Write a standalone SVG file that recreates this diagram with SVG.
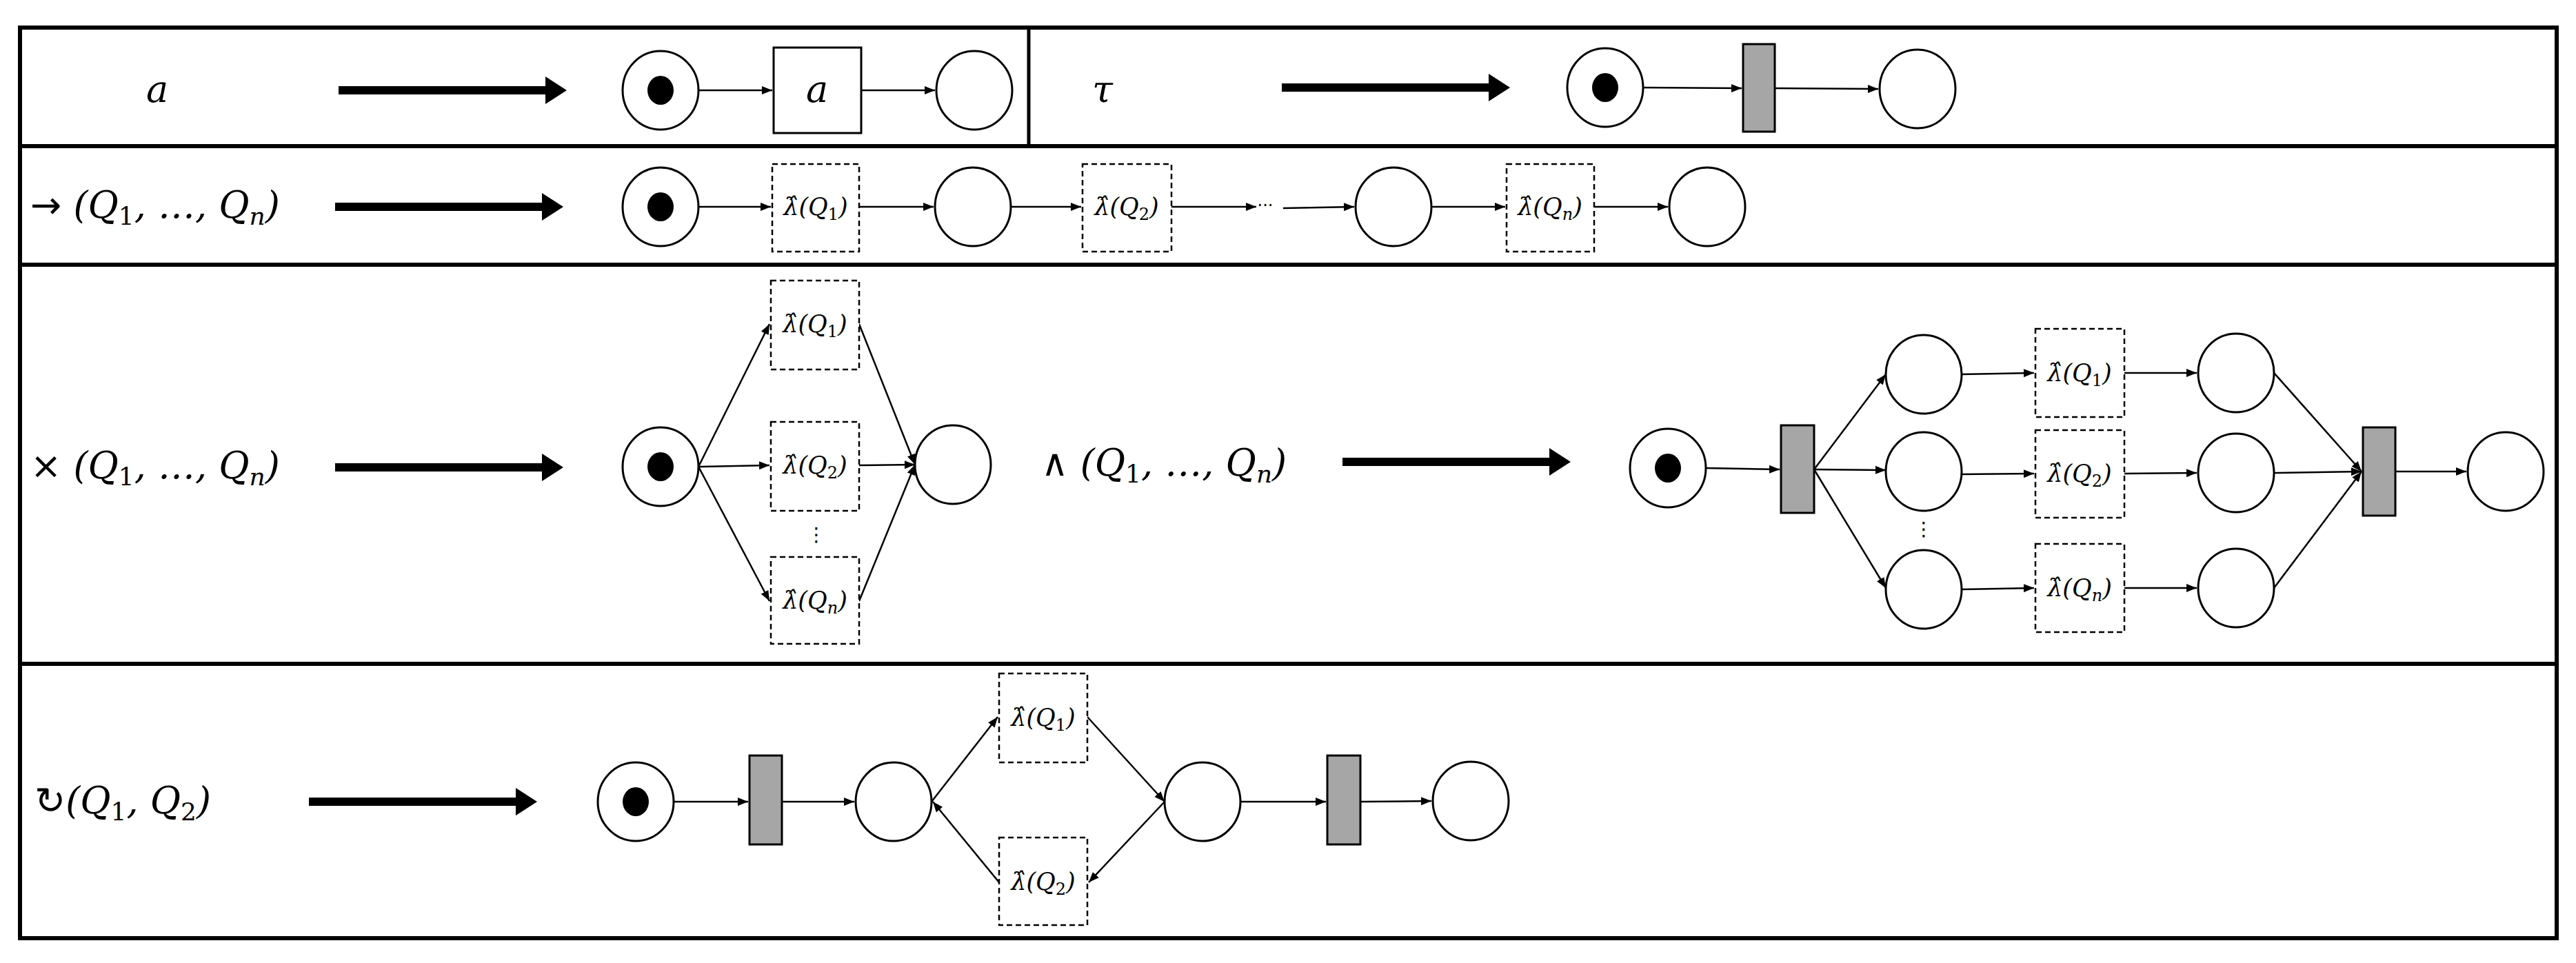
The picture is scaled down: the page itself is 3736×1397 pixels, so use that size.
<svg xmlns="http://www.w3.org/2000/svg" width="3736" height="1397" viewBox="0 0 3736 1397">
<style>
.frame{fill:none;stroke:#000;stroke-width:6}
.pl{fill:#fff;stroke:#000;stroke-width:3}
.tok{fill:#000}
.tr{fill:#fff;stroke:#000;stroke-width:3}
.sil{fill:#a6a6a6;stroke:#000;stroke-width:3}
.db{fill:#fff;stroke:#000;stroke-width:2.5;stroke-dasharray:8 5}
.e{fill:none;stroke:#000;stroke-width:2.5;marker-end:url(#ah)}
.big{fill:#000}
.m{font-family:"DejaVu Serif","Liberation Serif",serif;font-style:italic;fill:#000}
.lab{font-size:54px}
.bx{font-size:35px;text-anchor:middle}
.up{font-family:"DejaVu Sans","Liberation Sans",sans-serif;font-style:normal}
</style>
<defs>
<marker id="ah" viewBox="0 0 10 10" refX="10" refY="5" markerWidth="6" markerHeight="6" orient="auto" markerUnits="strokeWidth"><path d="M0,1 L10,5 L0,9 z" fill="#000"/></marker>
<path id="bigarrow" d="M0,-6 L300,-6 L300,-20 L331,0 L300,20 L300,6 L0,6 z"/>
</defs>
<rect x="0" y="0" width="3736" height="1397" fill="#fff"/>
<g id="frame">
<rect class="frame" x="29" y="40" width="3679" height="1321"/>
<line class="frame" x1="29" y1="212" x2="3708" y2="212"/>
<line class="frame" x1="29" y1="384" x2="3708" y2="384"/>
<line class="frame" x1="29" y1="963" x2="3708" y2="963"/>
<line x1="1492" y1="40" x2="1492" y2="212" stroke="#000" stroke-width="5"/>
</g>
<g id="labels">
<text class="m lab" x="212" y="148">a</text>
<text class="m lab" x="1584" y="148">τ</text>
<text class="m lab" x="44" y="316"><tspan class="up">→</tspan> (Q<tspan font-size="36" dy="10" font-style="normal">1</tspan><tspan dy="-10">, …, Q</tspan><tspan font-size="36" dy="10">n</tspan><tspan dy="-10">)</tspan></text>
<text class="m lab" x="44" y="694"><tspan class="up">×</tspan> (Q<tspan font-size="36" dy="10" font-style="normal">1</tspan><tspan dy="-10">, …, Q</tspan><tspan font-size="36" dy="10">n</tspan><tspan dy="-10">)</tspan></text>
<text class="m lab" x="1510" y="690"><tspan class="up">∧</tspan> (Q<tspan font-size="36" dy="10" font-style="normal">1</tspan><tspan dy="-10">, …, Q</tspan><tspan font-size="36" dy="10">n</tspan><tspan dy="-10">)</tspan></text>
<text class="m lab" x="50" y="1180"><tspan class="up">↻</tspan>(Q<tspan font-size="36" dy="10" font-style="normal">1</tspan><tspan dy="-10">, Q</tspan><tspan font-size="36" dy="10" font-style="normal">2</tspan><tspan dy="-10">)</tspan></text>
</g>
<g id="bigarrows" class="big">
<use href="#bigarrow" transform="translate(491,131)"/>
<use href="#bigarrow" transform="translate(1859,127)"/>
<use href="#bigarrow" transform="translate(486,300)"/>
<use href="#bigarrow" transform="translate(486,678)"/>
<use href="#bigarrow" transform="translate(1947,670)"/>
<use href="#bigarrow" transform="translate(448,1163)"/>
</g>
<g id="connectors">
<line class="e" x1="1013" y1="131" x2="1120" y2="131"/>
<line class="e" x1="1249" y1="131" x2="1356" y2="131"/>
<line class="e" x1="2383" y1="127" x2="2526" y2="128"/>
<line class="e" x1="2574" y1="128" x2="2724" y2="129"/>
<line class="e" x1="1013" y1="300" x2="1118" y2="300"/>
<line class="e" x1="1246" y1="300" x2="1354" y2="300"/>
<line class="e" x1="1466" y1="300" x2="1568" y2="300"/>
<line class="e" x1="1699" y1="300" x2="1822" y2="300"/>
<line class="e" x1="1861" y1="302" x2="1964" y2="300"/>
<line class="e" x1="2076" y1="300" x2="2183" y2="300"/>
<line class="e" x1="2312" y1="300" x2="2419" y2="300"/>
<line class="e" x1="1013" y1="677" x2="1116" y2="470"/>
<line class="e" x1="1013" y1="677" x2="1116" y2="675"/>
<line class="e" x1="1013" y1="677" x2="1116" y2="872"/>
<line class="e" x1="1246" y1="470" x2="1327" y2="674"/>
<line class="e" x1="1246" y1="675" x2="1327" y2="674"/>
<line class="e" x1="1246" y1="872" x2="1327" y2="674"/>
<line class="e" x1="2474" y1="679" x2="2581" y2="681"/>
<line class="e" x1="2631" y1="681" x2="2735" y2="543"/>
<line class="e" x1="2631" y1="681" x2="2735" y2="682"/>
<line class="e" x1="2631" y1="681" x2="2735" y2="853"/>
<line class="e" x1="2845" y1="543" x2="2950" y2="541"/>
<line class="e" x1="2845" y1="688" x2="2950" y2="687"/>
<line class="e" x1="2845" y1="855" x2="2950" y2="853"/>
<line class="e" x1="3081" y1="541" x2="3186" y2="541"/>
<line class="e" x1="3081" y1="687" x2="3186" y2="686"/>
<line class="e" x1="3081" y1="853" x2="3186" y2="853"/>
<line class="e" x1="3298" y1="541" x2="3425" y2="684"/>
<line class="e" x1="3298" y1="686" x2="3425" y2="684"/>
<line class="e" x1="3298" y1="853" x2="3425" y2="684"/>
<line class="e" x1="3474" y1="684" x2="3577" y2="684"/>
<line class="e" x1="977" y1="1163" x2="1085" y2="1163"/>
<line class="e" x1="1134" y1="1163" x2="1239" y2="1163"/>
<line class="e" x1="1351" y1="1163" x2="1447" y2="1040"/>
<line class="e" x1="1577" y1="1040" x2="1689" y2="1163"/>
<line class="e" x1="1689" y1="1163" x2="1579" y2="1280"/>
<line class="e" x1="1449" y1="1280" x2="1353" y2="1163"/>
<line class="e" x1="1799" y1="1163" x2="1923" y2="1163"/>
<line class="e" x1="1973" y1="1163" x2="2076" y2="1162"/>
</g>
<g id="row1">
<g id="p1a"><ellipse class="pl" cx="958" cy="131" rx="55" ry="57"/><ellipse class="tok" cx="958" cy="131" rx="19" ry="21"/></g>
<g id="ta"><rect class="tr" x="1122" y="69" width="127" height="124"/><text class="m" x="1185" y="148" font-size="54" text-anchor="middle">a</text></g>
<g id="p2a"><ellipse class="pl" cx="1413" cy="131" rx="55" ry="57"/></g>
<g id="p1t"><ellipse class="pl" cx="2328" cy="127" rx="55" ry="57"/><ellipse class="tok" cx="2328" cy="127" rx="19" ry="21"/></g>
<g id="tt"><rect class="sil" x="2528" y="64" width="46" height="127"/></g>
<g id="p2t"><ellipse class="pl" cx="2781" cy="129" rx="55" ry="57"/></g>
</g>
<g id="row2">
<g id="sp0"><ellipse class="pl" cx="958" cy="300" rx="55" ry="57"/><ellipse class="tok" cx="958" cy="300" rx="19" ry="21"/></g>
<g id="sb1"><rect class="db" x="1120" y="238" width="126" height="127"/><text class="m bx" x="1183" y="312">λ̂(Q<tspan font-size="24" dy="7" font-style="normal">1</tspan><tspan dy="-7">)</tspan></text></g>
<g id="sp1"><ellipse class="pl" cx="1411" cy="300" rx="55" ry="57"/></g>
<g id="sb2"><rect class="db" x="1570" y="238" width="129" height="127"/><text class="m bx" x="1634" y="312">λ̂(Q<tspan font-size="24" dy="7" font-style="normal">2</tspan><tspan dy="-7">)</tspan></text></g>
<text x="1835" y="306" font-family="DejaVu Sans,sans-serif" font-size="24" text-anchor="middle">···</text>
<g id="sp2"><ellipse class="pl" cx="2021" cy="300" rx="55" ry="57"/></g>
<g id="sbn"><rect class="db" x="2185" y="238" width="127" height="127"/><text class="m bx" x="2248" y="312">λ̂(Q<tspan font-size="24" dy="7">n</tspan><tspan dy="-7">)</tspan></text></g>
<g id="sp3"><ellipse class="pl" cx="2476" cy="300" rx="55" ry="57"/></g>
</g>
<g id="row3xor">
<g id="xp0"><ellipse class="pl" cx="958" cy="677" rx="55" ry="57"/><ellipse class="tok" cx="958" cy="677" rx="19" ry="21"/></g>
<g id="xb1"><rect class="db" x="1118" y="407" width="128" height="129"/><text class="m bx" x="1182" y="482">λ̂(Q<tspan font-size="24" dy="7" font-style="normal">1</tspan><tspan dy="-7">)</tspan></text></g>
<g id="xb2"><rect class="db" x="1118" y="612" width="128" height="129"/><text class="m bx" x="1182" y="687">λ̂(Q<tspan font-size="24" dy="7" font-style="normal">2</tspan><tspan dy="-7">)</tspan></text></g>
<text x="1184" y="785" font-family="DejaVu Sans,sans-serif" font-size="28" text-anchor="middle">⋮</text>
<g id="xbn"><rect class="db" x="1118" y="808" width="128" height="126"/><text class="m bx" x="1182" y="883">λ̂(Q<tspan font-size="24" dy="7">n</tspan><tspan dy="-7">)</tspan></text></g>
<g id="xp1"><ellipse class="pl" cx="1382" cy="674" rx="55" ry="57"/></g>
</g>
<g id="row3and">
<g id="ap0"><ellipse class="pl" cx="2419" cy="679" rx="55" ry="57"/><ellipse class="tok" cx="2419" cy="679" rx="19" ry="21"/></g>
<g id="at0"><rect class="sil" x="2583" y="617" width="48" height="127"/></g>
<g id="ap1"><ellipse class="pl" cx="2790" cy="543" rx="55" ry="57"/></g>
<g id="ap2"><ellipse class="pl" cx="2790" cy="684" rx="55" ry="57"/></g>
<text x="2790" y="777" font-family="DejaVu Sans,sans-serif" font-size="28" text-anchor="middle">⋮</text>
<g id="ap3"><ellipse class="pl" cx="2790" cy="855" rx="55" ry="57"/></g>
<g id="ab1"><rect class="db" x="2952" y="477" width="129" height="128"/><text class="m bx" x="3016" y="553">λ̂(Q<tspan font-size="24" dy="7" font-style="normal">1</tspan><tspan dy="-7">)</tspan></text></g>
<g id="ab2"><rect class="db" x="2952" y="624" width="129" height="127"/><text class="m bx" x="3016" y="699">λ̂(Q<tspan font-size="24" dy="7" font-style="normal">2</tspan><tspan dy="-7">)</tspan></text></g>
<g id="abn"><rect class="db" x="2952" y="789" width="129" height="128"/><text class="m bx" x="3016" y="865">λ̂(Q<tspan font-size="24" dy="7">n</tspan><tspan dy="-7">)</tspan></text></g>
<g id="ap4"><ellipse class="pl" cx="3243" cy="541" rx="55" ry="57"/></g>
<g id="ap5"><ellipse class="pl" cx="3243" cy="686" rx="55" ry="57"/></g>
<g id="ap6"><ellipse class="pl" cx="3243" cy="853" rx="55" ry="57"/></g>
<g id="at1"><rect class="sil" x="3427" y="620" width="47" height="128"/></g>
<g id="ap7"><ellipse class="pl" cx="3634" cy="684" rx="55" ry="57"/></g>
</g>
<g id="row4">
<g id="lp0"><ellipse class="pl" cx="922" cy="1163" rx="55" ry="57"/><ellipse class="tok" cx="922" cy="1163" rx="19" ry="21"/></g>
<g id="lt0"><rect class="sil" x="1087" y="1096" width="47" height="129"/></g>
<g id="lp1"><ellipse class="pl" cx="1296" cy="1163" rx="55" ry="57"/></g>
<g id="lb1"><rect class="db" x="1449" y="977" width="128" height="129"/><text class="m bx" x="1513" y="1053">λ̂(Q<tspan font-size="24" dy="7" font-style="normal">1</tspan><tspan dy="-7">)</tspan></text></g>
<g id="lb2"><rect class="db" x="1449" y="1215" width="128" height="127"/><text class="m bx" x="1513" y="1291">λ̂(Q<tspan font-size="24" dy="7" font-style="normal">2</tspan><tspan dy="-7">)</tspan></text></g>
<g id="lp2"><ellipse class="pl" cx="1744" cy="1163" rx="55" ry="57"/></g>
<g id="lt1"><rect class="sil" x="1925" y="1096" width="48" height="129"/></g>
<g id="lp3"><ellipse class="pl" cx="2133" cy="1162" rx="55" ry="57"/></g>
</g>
</svg>
